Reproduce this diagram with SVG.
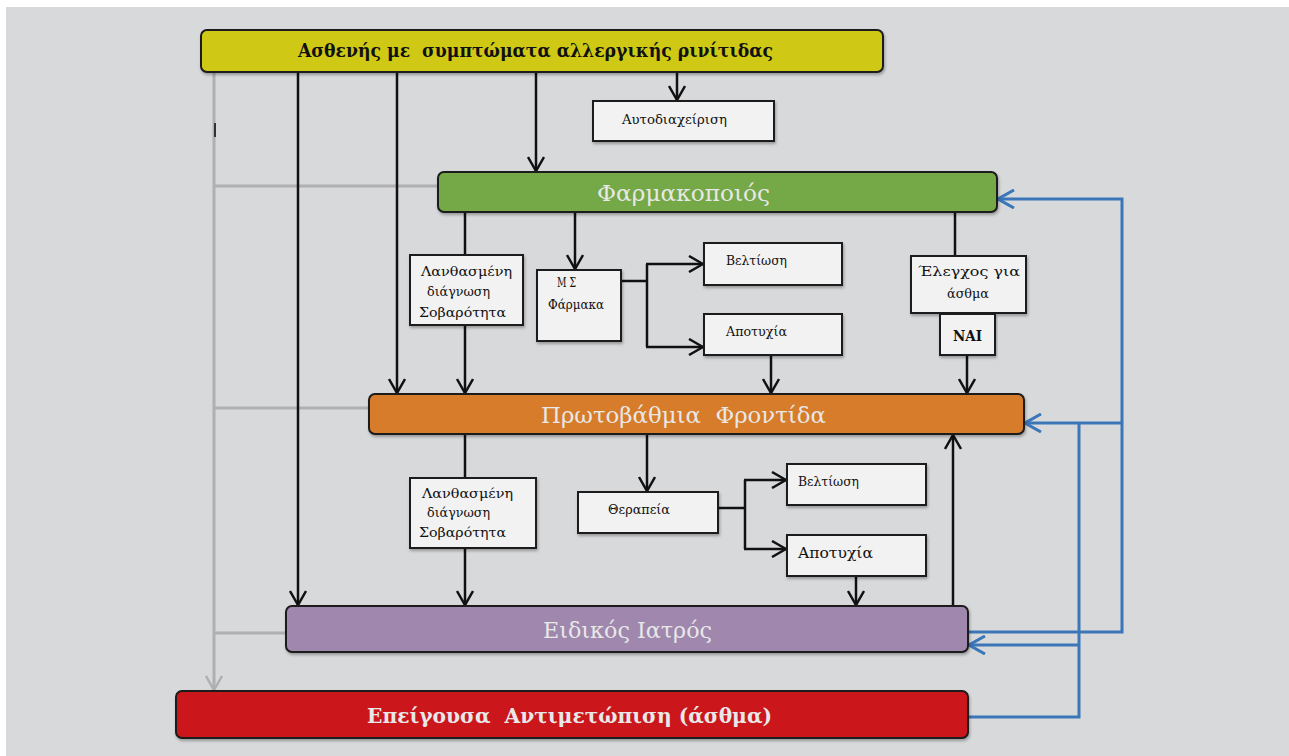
<svg xmlns="http://www.w3.org/2000/svg" width="1289" height="756" viewBox="0 0 1289 756">
<style>
.bg{fill:#d8d9db}
.box{fill:#f2f2f2;stroke:#1a1a1a;stroke-width:2}
.big{stroke:#1a1a1a;stroke-width:2}
.t{font-family:"DejaVu Serif","Liberation Serif",serif;fill:#111;white-space:pre}
.s{font-size:13px}
.w{fill:#e8e8e8}
.k{stroke:#111;stroke-width:2.5;fill:none}
.g{stroke:#b0b0b2;stroke-width:3;fill:none}
.b{stroke:#3a76b8;stroke-width:3;fill:none}
</style>
<defs>
<filter id="sh" x="-5%" y="-20%" width="110%" height="150%">
<feDropShadow dx="1" dy="2" stdDeviation="1.5" flood-color="#000" flood-opacity="0.3"/>
</filter>
<marker id="ak" viewBox="0 0 16 18" refX="15" refY="9" markerWidth="16" markerHeight="18" markerUnits="userSpaceOnUse" orient="auto">
<path d="M1,1 L15,9 L1,17" fill="none" stroke="#111" stroke-width="2.5"/>
</marker>
<marker id="ag" viewBox="0 0 16 18" refX="15" refY="9" markerWidth="16" markerHeight="18" markerUnits="userSpaceOnUse" orient="auto">
<path d="M1,1 L15,9 L1,17" fill="none" stroke="#b0b0b2" stroke-width="2.5"/>
</marker>
<marker id="ab" viewBox="0 0 18 20" refX="17" refY="10" markerWidth="18" markerHeight="20" markerUnits="userSpaceOnUse" orient="auto">
<path d="M1,1 L17,10 L1,19" fill="none" stroke="#3a76b8" stroke-width="3"/>
</marker>
</defs>
<rect x="0" y="0" width="1289" height="756" fill="#ffffff"/>
<rect class="bg" x="6" y="7" width="1283" height="749"/>

<g id="connectors">
<path class="g" d="M214,72 V690" marker-end="url(#ag)"/>
<path class="g" d="M214,186 H438"/>
<path class="g" d="M214,408 H369"/>
<path class="g" d="M214,633 H286"/>
<path d="M215,123 V137" stroke="#333" stroke-width="2"/>
<path class="k" d="M298,72 V605" marker-end="url(#ak)"/>
<path class="k" d="M397,72 V393" marker-end="url(#ak)"/>
<path class="k" d="M536,72 V171" marker-end="url(#ak)"/>
<path class="k" d="M677,72 V100" marker-end="url(#ak)"/>
<path class="k" d="M465,212 V255"/>
<path class="k" d="M575,212 V269" marker-end="url(#ak)"/>
<path class="k" d="M955,212 V256"/>
<path class="k" d="M465,325 V393" marker-end="url(#ak)"/>
<path class="k" d="M621,281 H647"/>
<path class="k" d="M647,264 V347"/>
<path class="k" d="M646,264 H703" marker-end="url(#ak)"/>
<path class="k" d="M646,347 H703" marker-end="url(#ak)"/>
<path class="k" d="M771,355 V393" marker-end="url(#ak)"/>
<path class="k" d="M967,355 V393" marker-end="url(#ak)"/>
<path class="k" d="M465,434 V478"/>
<path class="k" d="M647,434 V491" marker-end="url(#ak)"/>
<path class="k" d="M465,548 V605" marker-end="url(#ak)"/>
<path class="k" d="M718,508 H745"/>
<path class="k" d="M745,480 V549"/>
<path class="k" d="M744,480 H786" marker-end="url(#ak)"/>
<path class="k" d="M744,549 H786" marker-end="url(#ak)"/>
<path class="k" d="M856,576 V605" marker-end="url(#ak)"/>
<path class="k" d="M953,606 V435" marker-end="url(#ak)"/>
<path class="b" d="M968,632 H1122 V199 H998" marker-end="url(#ab)"/>
<path class="b" d="M1122,423 H1025" marker-end="url(#ab)"/>
<path class="b" d="M968,717 H1079 V423"/>
<path class="b" d="M1079,645 H969" marker-end="url(#ab)"/>
</g>

<g id="patient">
<rect class="big" x="201" y="30" width="682" height="42" rx="6" fill="#cfc915" filter="url(#sh)"/>
<text class="t" x="298" y="57" font-size="19" font-weight="bold" textLength="475" lengthAdjust="spacingAndGlyphs">Ασθενής με  συμπτώματα αλλεργικής ρινίτιδας</text>
</g>

<g id="selfcare">
<rect class="box" x="593" y="101" width="181" height="40" filter="url(#sh)"/>
<text class="t s" x="622" y="124" textLength="105" lengthAdjust="spacingAndGlyphs">Αυτοδιαχείριση</text>
</g>

<g id="pharmacist">
<rect class="big" x="438" y="172" width="559" height="40" rx="6" fill="#75a846" filter="url(#sh)"/>
<text class="t w" x="597" y="201" font-size="23" textLength="173" lengthAdjust="spacingAndGlyphs">Φαρμακοποιός</text>
</g>

<g id="misdiag1">
<rect class="box" x="410" y="255" width="113" height="70" filter="url(#sh)"/>
<text class="t s" x="421" y="276" textLength="91" lengthAdjust="spacingAndGlyphs">Λανθασμένη</text>
<text class="t s" x="427" y="296" textLength="63" lengthAdjust="spacingAndGlyphs">διάγνωση</text>
<text class="t s" x="419" y="317" textLength="87" lengthAdjust="spacingAndGlyphs">Σοβαρότητα</text>
</g>

<g id="otc">
<rect class="box" x="537" y="270" width="84" height="71" filter="url(#sh)"/>
<text class="t" x="557" y="287" font-size="12" textLength="19" lengthAdjust="spacingAndGlyphs">Μ Σ</text>
<text class="t" x="548" y="309" font-size="12" textLength="56" lengthAdjust="spacingAndGlyphs">Φάρμακα</text>
</g>

<g id="improve1">
<rect class="box" x="704" y="243" width="138" height="42" filter="url(#sh)"/>
<text class="t s" x="726" y="265" textLength="61" lengthAdjust="spacingAndGlyphs">Βελτίωση</text>
</g>

<g id="fail1">
<rect class="box" x="704" y="314" width="138" height="41" filter="url(#sh)"/>
<text class="t s" x="726" y="336" textLength="61" lengthAdjust="spacingAndGlyphs">Αποτυχία</text>
</g>

<g id="asthmacheck">
<rect class="box" x="911" y="256" width="115" height="57" filter="url(#sh)"/>
<text class="t s" x="918" y="276" textLength="102" lengthAdjust="spacingAndGlyphs">Έλεγχος για</text>
<text class="t s" x="947" y="298" textLength="42" lengthAdjust="spacingAndGlyphs">άσθμα</text>
</g>

<g id="yes">
<rect class="box" x="940" y="314" width="55" height="41" filter="url(#sh)"/>
<text class="t" x="953" y="341" font-size="15" font-weight="bold" textLength="29" lengthAdjust="spacingAndGlyphs">ΝΑΙ</text>
</g>

<g id="primary">
<rect class="big" x="369" y="394" width="655" height="40" rx="6" fill="#d77b2c" filter="url(#sh)"/>
<text class="t w" x="541" y="423" font-size="23" textLength="285" lengthAdjust="spacingAndGlyphs">Πρωτοβάθμια  Φροντίδα</text>
</g>

<g id="misdiag2">
<rect class="box" x="410" y="478" width="126" height="70" filter="url(#sh)"/>
<text class="t s" x="422" y="498" textLength="91" lengthAdjust="spacingAndGlyphs">Λανθασμένη</text>
<text class="t s" x="427" y="517" textLength="63" lengthAdjust="spacingAndGlyphs">διάγνωση</text>
<text class="t s" x="419" y="537" textLength="87" lengthAdjust="spacingAndGlyphs">Σοβαρότητα</text>
</g>

<g id="therapy">
<rect class="box" x="578" y="492" width="140" height="41" filter="url(#sh)"/>
<text class="t s" x="608" y="514" textLength="62" lengthAdjust="spacingAndGlyphs">Θεραπεία</text>
</g>

<g id="improve2">
<rect class="box" x="787" y="464" width="139" height="41" filter="url(#sh)"/>
<text class="t s" x="798" y="486" textLength="61" lengthAdjust="spacingAndGlyphs">Βελτίωση</text>
</g>

<g id="fail2">
<rect class="box" x="787" y="535" width="139" height="41" filter="url(#sh)"/>
<text class="t" x="798" y="558" font-size="15" textLength="75" lengthAdjust="spacingAndGlyphs">Αποτυχία</text>
</g>

<g id="specialist">
<rect class="big" x="286" y="606" width="682" height="46" rx="6" fill="#9f87ad" filter="url(#sh)"/>
<text class="t w" x="543" y="638" font-size="23" textLength="169" lengthAdjust="spacingAndGlyphs">Ειδικός Ιατρός</text>
</g>

<g id="emergency">
<rect class="big" x="176" y="691" width="792" height="47" rx="6" fill="#cb161d" filter="url(#sh)"/>
<text class="t w" x="367" y="723" font-size="21" font-weight="bold" textLength="405" lengthAdjust="spacingAndGlyphs">Επείγουσα  Αντιμετώπιση (άσθμα)</text>
</g>
</svg>
